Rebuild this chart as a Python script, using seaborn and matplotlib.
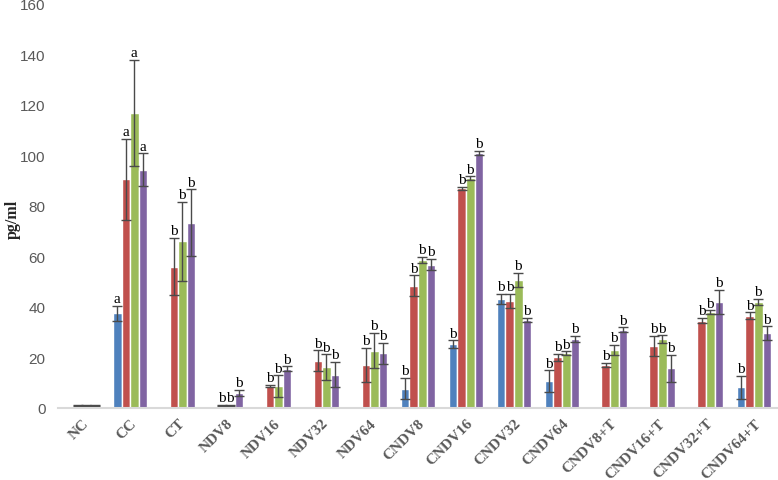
import numpy as np
import pandas as pd
import matplotlib
matplotlib.use('Agg')
import matplotlib.pyplot as plt
import seaborn as sns

# ---- data ----
groups = ['NC', 'CC', 'CT', 'NDV8', 'NDV16', 'NDV32', 'NDV64', 'CNDV8', 'CNDV16',
          'CNDV32', 'CNDV64', 'CNDV8+T', 'CNDV16+T', 'CNDV32+T', 'CNDV64+T']
series_names = ['S1', 'S2', 'S3', 'S4']
nan = np.nan

s1_vals = [nan, 37.5, nan, nan, nan, nan, nan, 7.7, 25.3, 43.2, 10.6, nan, nan, nan, 8.2]
s1_err  = [0, 3.0, 0, 0, 0, 0, 0, 4.1, 1.5, 2.0, 4.3, 0, 0, 0, 4.6]
s2_vals = [1.0, 90.5, 56.0, 1.0, 8.8, 18.7, 17.0, 48.5, 87.0, 42.5, 20.0, 17.0, 24.5, 34.6, 36.6]
s2_err  = [0.2, 16.0, 11.3, 0.3, 0.5, 4.1, 6.8, 4.0, 0.7, 2.8, 1.5, 0.8, 4.0, 1.0, 1.3]
s3_vals = [1.0, 117.0, 66.0, 1.0, 8.7, 16.2, 22.7, 58.6, 91.0, 50.7, 21.7, 23.0, 27.3, 37.9, 41.9]
s3_err  = [0.2, 21.0, 15.7, 0.3, 4.2, 5.0, 7.0, 1.3, 0.7, 2.7, 0.7, 2.0, 1.5, 0.8, 1.3]
s4_vals = [1.0, 94.3, 73.3, 6.0, 15.5, 13.2, 21.7, 56.8, 101.0, 34.9, 27.4, 31.0, 15.7, 42.1, 29.7]
s4_err  = [0.2, 6.5, 13.3, 1.2, 1.0, 5.0, 4.2, 2.3, 0.9, 0.7, 1.3, 0.9, 5.4, 4.8, 2.6]

s1_sig = ['', 'a', '', '', '', '', '', 'b', 'b', 'b', 'b', '', '', '', 'b']
s2_sig = ['', 'a'] + ['b'] * 13
s3_sig = ['', 'a'] + ['b'] * 13
s4_sig = ['', 'a'] + ['b'] * 13

colors = ['#4F81BD', '#C0504D', '#9BBB59', '#8064A2']

all_vals = [s1_vals, s2_vals, s3_vals, s4_vals]
all_err = [s1_err, s2_err, s3_err, s4_err]
all_sig = [s1_sig, s2_sig, s3_sig, s4_sig]

rows = []
for name, vals in zip(series_names, all_vals):
    for g, v in zip(groups, vals):
        rows.append({'group': g, 'series': name, 'value': v})
df = pd.DataFrame(rows)
df['plot_value'] = df['value'].fillna(0)

# ---- plot ----
sns.set_style('white')
fig = plt.figure(figsize=(7.78, 4.81), dpi=100)
ax = fig.add_axes([0.0746, 0.1497, 0.9254, 0.840])

sns.barplot(data=df, x='group', y='plot_value', hue='series', order=groups,
            hue_order=series_names, palette=colors, width=0.71, saturation=1,
            edgecolor='white', linewidth=1.0, errorbar=None, legend=False, ax=ax)

for cont, vals, errs, sigs in zip(ax.containers, all_vals, all_err, all_sig):
    for bar, v, e, s in zip(cont, vals, errs, sigs):
        if np.isnan(v):
            continue
        xc = bar.get_x() + bar.get_width() / 2
        ax.errorbar(xc, v, yerr=e, fmt='none', ecolor='#4a4a4a',
                    elinewidth=1.0, capsize=3.5, capthick=1.0)
        if s:
            ax.text(xc, v + e + 0.3, s, ha='center', va='bottom',
                    fontsize=11, family='Liberation Serif', color='black')

ax.set_ylim(0, 160)
ax.set_yticks(range(0, 161, 20))
ax.set_xlim(-0.5, len(groups) - 0.5)
ax.set_xlabel('')
ax.set_ylabel('pg/ml', fontsize=11.5, fontweight='bold', family='Liberation Serif',
              color='#262626')
ax.yaxis.set_label_coords(-0.052, 0.47)

for sp in ['top', 'right', 'left']:
    ax.spines[sp].set_visible(False)
ax.spines['bottom'].set_color('#D9D9D9')
ax.spines['bottom'].set_linewidth(1.5)

ax.tick_params(axis='y', length=0, labelsize=11, labelcolor='#595959', pad=9)
ax.tick_params(axis='x', length=0, pad=6)
for lab in ax.get_yticklabels():
    lab.set_family('Liberation Sans')
ax.set_xticks(range(len(groups)))
ax.set_xticklabels(groups, rotation=45, ha='right', rotation_mode='anchor',
                   fontsize=11, fontweight='bold', family='Liberation Serif',
                   color='#595959')

fig.savefig('out.png', dpi=100)
